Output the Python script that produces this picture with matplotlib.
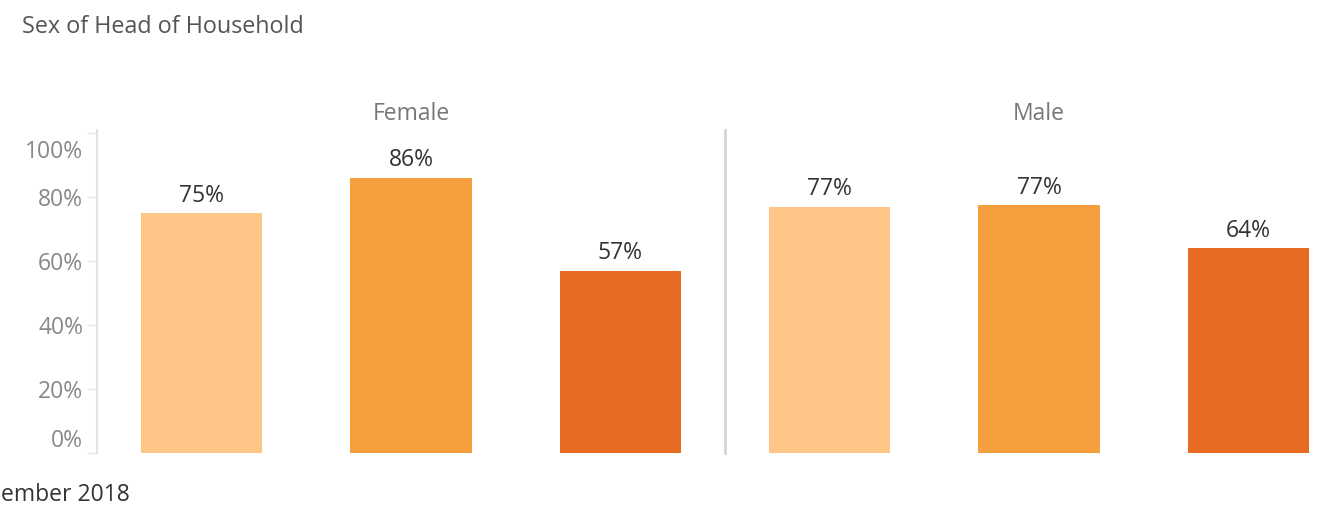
import matplotlib
matplotlib.use("Agg")
import matplotlib.pyplot as plt
from matplotlib.ticker import FixedLocator
import matplotlib.transforms as mtransforms

# ---- data ----
panels = ["Female", "Male"]
categories = ["A", "B", "C"]
female_values = [0.75, 0.86, 0.57]
male_values = [0.77, 0.775, 0.64]
value_labels = {"Female": ["75%", "86%", "57%"], "Male": ["77%", "77%", "64%"]}
bar_colors = ["#fec586", "#f59f3e", "#e86b22"]
y_ticks = [0.0, 0.2, 0.4, 0.6, 0.8, 1.0]
y_tick_labels = ["0%", "20%", "40%", "60%", "80%", "100%"]
title = "Sex of Head of Household"
footer = "ember 2018"

FONT = "Open Sans"
FS = 16.5
W, H = 1334, 507
fig = plt.figure(figsize=(W / 100, H / 100), dpi=100)

def px_rect(x0, y_top, x1, y_bottom):
    return [x0 / W, (H - y_bottom) / H, (x1 - x0) / W, (y_bottom - y_top) / H]

ax_f = fig.add_axes(px_rect(97, 130, 725, 453))
ax_m = fig.add_axes(px_rect(725, 130, 1353, 453))

for ax, name, vals in [(ax_f, "Female", female_values), (ax_m, "Male", male_values)]:
    x = list(range(len(categories)))
    ax.bar(x, vals, width=0.58, color=bar_colors, zorder=2)
    ax.set_xlim(-0.5, 2.5)
    ax.set_ylim(0, 1.01)
    ax.set_xticks([])
    for xi, v, lab in zip(x, vals, value_labels[name]):
        ax.annotate(lab, (xi, v), xytext=(0, 4), textcoords="offset points",
                    ha="center", va="bottom", fontsize=FS, color="#333333",
                    family=FONT)
    for s in ["top", "right", "bottom"]:
        ax.spines[s].set_visible(False)
    ax.patch.set_visible(False)
    fig.text((ax.get_position().x0 + ax.get_position().x1) / 2, (H - 114) / H, name,
             ha="center", va="center", fontsize=FS, color="#777777", family=FONT)

# left axis
ax_f.spines["left"].set_color("#e2e2e2")
ax_f.spines["left"].set_linewidth(1.5)
ax_f.yaxis.set_major_locator(FixedLocator(y_ticks))
ax_f.set_yticklabels(y_tick_labels)
ax_f.tick_params(axis="y", length=7, width=1, color="#e6e6e6", pad=3,
                 labelsize=FS, labelcolor="#888888")
for lab in ax_f.get_yticklabels():
    lab.set_family(FONT)
labs = ax_f.get_yticklabels()
labs[0].set_transform(labs[0].get_transform() + mtransforms.ScaledTranslation(0, 15 / 100, fig.dpi_scale_trans))
labs[-1].set_transform(labs[-1].get_transform() + mtransforms.ScaledTranslation(0, -16 / 100, fig.dpi_scale_trans))

# divider / right panel
ax_m.spines["left"].set_color("#d4d4d4")
ax_m.spines["left"].set_linewidth(2)
ax_m.set_yticks([])

fig.text(22 / W, (H - 27) / H, title, ha="left", va="center", fontsize=16.8,
         color="#555555", family=FONT)
fig.text(130 / W, (H - 495) / H, footer, ha="right", va="center", fontsize=FS,
         color="#333333", family=FONT)

fig.savefig("out.png", dpi=100)
